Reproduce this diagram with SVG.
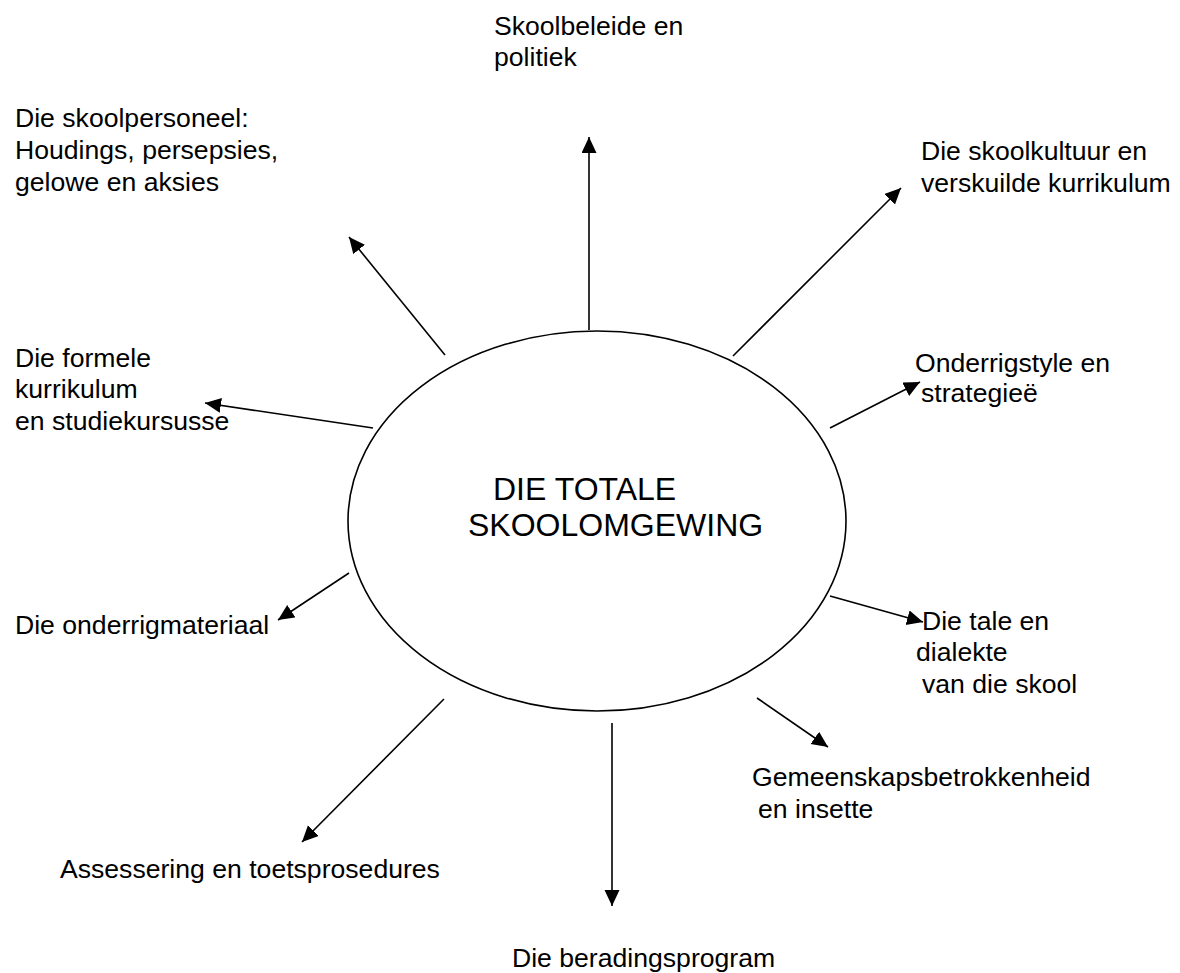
<svg xmlns="http://www.w3.org/2000/svg" width="1180" height="973" viewBox="0 0 1180 973">
<style>
text{font-family:"Liberation Sans",Arial,sans-serif;font-size:26.6px;fill:#000}
.c{font-size:32px}
.ln{stroke:#000;stroke-width:1.6;fill:none}
</style>
<defs>
<marker id="ah" markerUnits="userSpaceOnUse" markerWidth="18" markerHeight="16" refX="16" refY="7.5" orient="auto">
<path d="M0,0 L16,7.5 L0,15 z" fill="#000"/>
</marker>
</defs>
<rect width="1180" height="973" fill="#fff"/>
<g id="center">
<ellipse cx="597" cy="521" rx="249" ry="190" fill="none" stroke="#000" stroke-width="1.6"/>
<text class="c" x="493" y="500">DIE TOTALE</text>
<text class="c" x="468" y="536">SKOOLOMGEWING</text>
</g>
<g id="connectors">
<line class="ln" x1="589" y1="330" x2="589" y2="137" marker-end="url(#ah)"/>
<line class="ln" x1="445" y1="355" x2="349" y2="237" marker-end="url(#ah)"/>
<line class="ln" x1="373" y1="428" x2="205" y2="403" marker-end="url(#ah)"/>
<line class="ln" x1="349" y1="573" x2="278" y2="620" marker-end="url(#ah)"/>
<line class="ln" x1="444" y1="699" x2="302" y2="842" marker-end="url(#ah)"/>
<line class="ln" x1="612" y1="723" x2="612" y2="906" marker-end="url(#ah)"/>
<line class="ln" x1="757" y1="698" x2="828" y2="747" marker-end="url(#ah)"/>
<line class="ln" x1="830" y1="596" x2="923" y2="622" marker-end="url(#ah)"/>
<line class="ln" x1="830" y1="428" x2="920" y2="382" marker-end="url(#ah)"/>
<line class="ln" x1="733" y1="356" x2="901" y2="188" marker-end="url(#ah)"/>
</g>
<g id="n-skoolbeleide">
<text x="494" y="35">Skoolbeleide en</text>
<text x="494" y="66">politiek</text>
</g>
<g id="n-personeel">
<text x="15" y="127">Die skoolpersoneel:</text>
<text x="15" y="159">Houdings, persepsies,</text>
<text x="15" y="191">gelowe en aksies</text>
</g>
<g id="n-kultuur">
<text x="921" y="160">Die skoolkultuur en</text>
<text x="921" y="192">verskuilde kurrikulum</text>
</g>
<g id="n-formele">
<text x="15" y="367">Die formele</text>
<text x="15" y="398">kurrikulum</text>
<text x="15" y="430">en studiekursusse</text>
</g>
<g id="n-onderrigstyle">
<text x="915" y="372">Onderrigstyle en</text>
<text x="921" y="402">strategieë</text>
</g>
<g id="n-materiaal">
<text x="15" y="634">Die onderrigmateriaal</text>
</g>
<g id="n-tale">
<text x="922" y="630">Die tale en</text>
<text x="916" y="661">dialekte</text>
<text x="922" y="693">van die skool</text>
</g>
<g id="n-gemeenskap">
<text x="752" y="786">Gemeenskapsbetrokkenheid</text>
<text x="758" y="818">en insette</text>
</g>
<g id="n-assessering">
<text x="60" y="878">Assessering en toetsprosedures</text>
</g>
<g id="n-berading">
<text x="512" y="967">Die beradingsprogram</text>
</g>
</svg>
